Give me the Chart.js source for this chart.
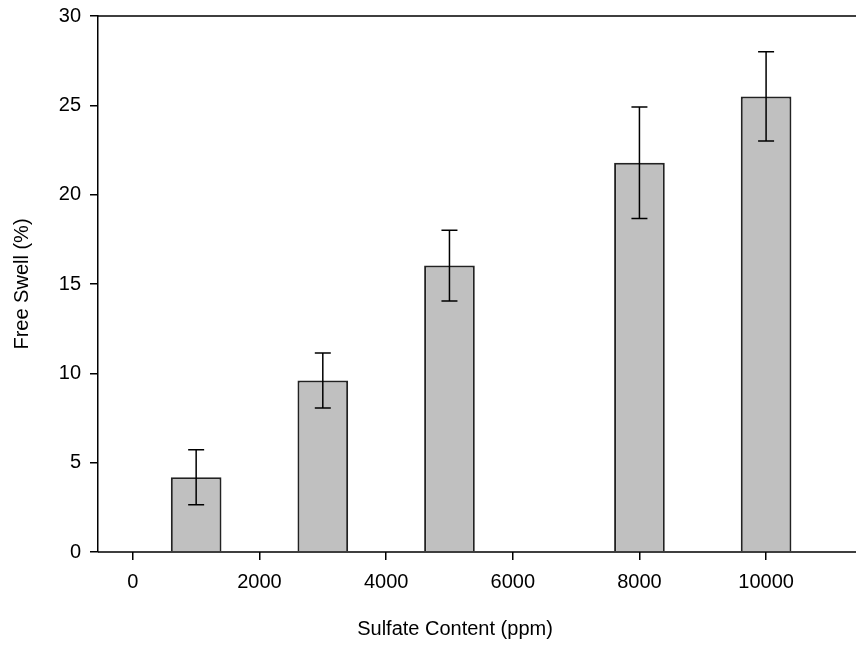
<!DOCTYPE html>
<html lang="en">
<head>
  <meta charset="UTF-8">
  <title>Free Swell vs Sulfate Content</title>
  <script src="https://cdn.jsdelivr.net/npm/chart.js"></script>
  <style>
    body {
      margin: 0;
      background: #fff;
      overflow: hidden;
    }
    canvas {
      display: block;
    }
  </style>
</head>
<body>
  <canvas id="swellChart" width="856" height="649"></canvas>

  <script>
    // data
    const sulfate = [1000, 3000, 5000, 8000, 10000];
    const swell = [4.18, 9.6, 16.03, 21.78, 25.5];
    const swellErr = [1.54, 1.54, 1.98, 3.12, 2.5];

    const xTicks = [0, 2000, 4000, 6000, 8000, 10000];
    const yTicks = [0, 5, 10, 15, 20, 25, 30];

    const font = { family: "'Liberation Sans', Arial, sans-serif", size: 20 };

    // error bars + top/bottom frame lines running to the right edge
    const extras = {
      id: 'extras',
      afterDatasetsDraw(chart) {
        const ctx = chart.ctx;
        const xs = chart.scales.x;
        const ys = chart.scales.y;
        ctx.save();
        ctx.strokeStyle = '#000';
        ctx.lineWidth = 1.5;
        sulfate.forEach((s, i) => {
          const x = xs.getPixelForValue(s);
          const top = ys.getPixelForValue(swell[i] + swellErr[i]);
          const bot = ys.getPixelForValue(swell[i] - swellErr[i]);
          ctx.beginPath();
          ctx.moveTo(x, top);
          ctx.lineTo(x, bot);
          ctx.moveTo(x - 8, top);
          ctx.lineTo(x + 8, top);
          ctx.moveTo(x - 8, bot);
          ctx.lineTo(x + 8, bot);
          ctx.stroke();
        });
        ctx.restore();
      },
      afterDraw(chart) {
        const ctx = chart.ctx;
        const area = chart.chartArea;
        ctx.save();
        ctx.strokeStyle = '#000';
        ctx.lineWidth = 1.5;
        ctx.beginPath();
        ctx.moveTo(area.left, area.top);
        ctx.lineTo(chart.width, area.top);
        ctx.moveTo(area.left, area.bottom);
        ctx.lineTo(chart.width, area.bottom);
        ctx.stroke();
        ctx.restore();
      }
    };

    new Chart(document.getElementById('swellChart'), {
      type: 'bar',
      data: {
        datasets: [{
          label: 'Free Swell',
          data: sulfate.map((s, i) => ({ x: s, y: swell[i] })),
          backgroundColor: '#c0c0c0',
          borderColor: '#222',
          borderWidth: 2,
          borderSkipped: 'bottom',
          barPercentage: 0.4,
          categoryPercentage: 1
        }]
      },
      options: {
        responsive: false,
        animation: false,
        layout: { padding: { top: 16, right: 44, left: 0, bottom: 0 } },
        plugins: {
          legend: { display: false },
          tooltip: { enabled: false }
        },
        scales: {
          x: {
            type: 'linear',
            offset: false,
            min: -550,
            max: 10725,
            afterBuildTicks: scale => { scale.ticks = xTicks.map(v => ({ value: v })); },
            afterFit: scale => { scale.height = 97; scale.paddingLeft = 0; scale.paddingRight = 0; },
            grid: { display: true, offset: false, drawOnChartArea: false, drawTicks: true, tickLength: 8, color: '#000', lineWidth: 1.5 },
            border: { display: false },
            ticks: { color: '#000', font: font, padding: 10, maxRotation: 0, callback: v => String(v) },
            title: {
              display: true,
              text: 'Sulfate Content (ppm)',
              color: '#000',
              font: font,
              padding: { top: 0, bottom: 8 }
            }
          },
          y: {
            min: 0,
            max: 30,
            afterBuildTicks: scale => { scale.ticks = yTicks.map(v => ({ value: v })); },
            afterFit: scale => { scale.width = 98; scale.paddingTop = 0; scale.paddingBottom = 0; },
            grid: { display: true, drawOnChartArea: false, drawTicks: true, tickLength: 8, color: '#000', lineWidth: 1.5 },
            border: { display: true, color: '#000', width: 1.5 },
            ticks: { color: '#000', font: font, padding: 9 },
            title: {
              display: true,
              text: 'Free Swell (%)',
              color: '#000',
              font: font,
              padding: { top: 10, bottom: 0 }
            }
          }
        }
      },
      plugins: [extras]
    });
  </script>
</body>
</html>
